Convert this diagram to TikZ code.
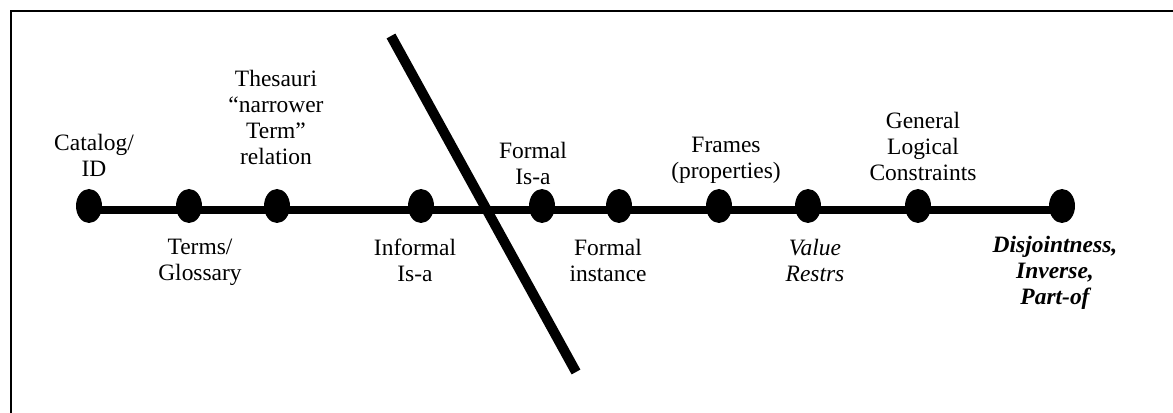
\documentclass[tikz,border=0pt]{standalone}
\usepackage{fontspec}
\setmainfont{Liberation Serif}
\usetikzlibrary{shapes.geometric, positioning}

\begin{document}
\begin{tikzpicture}[
    x=0.75pt, y=-0.75pt,
    dot/.style={ellipse, fill=black, inner sep=0pt, minimum width=19.5pt, minimum height=25.5pt},
    lbl/.style={align=center, inner sep=0pt, anchor=base, font=\fontsize{17.6}{19.5}\selectfont},
    axis/.style={line width=5.5pt},
    divider/.style={line width=7.5pt},
    frame/.style={line width=1.5pt}
  ]
    \useasboundingbox (0,0) rectangle (1173,413);

    % Rahmen
    \draw[frame] (1173,11) -- (10.5,11) -- (10.5,413);

    % Punkte auf der Achse
    \node[dot] (d1) at (89, 206) {};
    \node[dot] (d2) at (189, 206) {};
    \node[dot] (d3) at (277, 206) {};
    \node[dot] (d4) at (421, 206) {};
    \node[dot] (d5) at (542, 206) {};
    \node[dot] (d6) at (619, 206) {};
    \node[dot] (d7) at (719, 206) {};
    \node[dot] (d8) at (808, 206) {};
    \node[dot] (d9) at (918, 206) {};
    \node[dot] (d10) at (1062, 206) {};

    % Achse
    \draw[axis] ([yshift=-3pt]d1.center) -- ([yshift=-3pt]d10.center);

    % Trennlinie
    \coordinate (cutTop) at (391, 36);
    \coordinate (cutBot) at (576, 372);
    \draw[divider] (cutTop) -- (cutBot);

    % Beschriftungen oben (base = letzte Zeile)
    \node[lbl] (catalog) at (94, 177) {Catalog/\\ ID};
    \node[lbl] (thesauri) at (276, 165) {Thesauri\\ “narrower\\ Term”\\ relation};
    \node[lbl] (formalisa) at (533, 185) {Formal\\ Is-a};
    \node[lbl] (frames) at (726, 179) {Frames\\ (properties)};
    \node[lbl] (general) at (923, 181) {General\\ Logical\\ Constraints};

    % Beschriftungen unten
    \node[lbl] (terms) at (200, 280) {Terms/\\ Glossary};
    \node[lbl] (informal) at (415, 281) {Informal\\ Is-a};
    \node[lbl] (instance) at (608, 281) {Formal\\ instance};
    \node[lbl, font=\fontsize{17.6}{19.5}\selectfont\itshape] (value) at (815, 281) {Value\\ Restrs};
    \node[lbl, font=\fontsize{17.6}{19.5}\selectfont\bfseries\itshape] (disjoint) at (1055, 304) {Disjointness,\\ Inverse,\\ Part-of};
  \end{tikzpicture}
\end{document}
